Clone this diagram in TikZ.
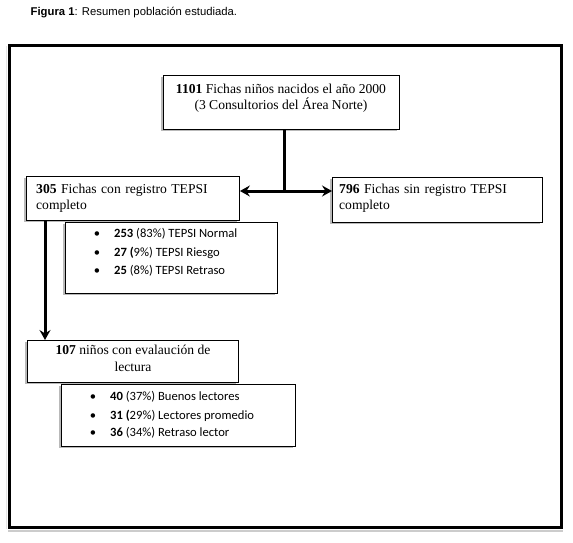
\documentclass[tikz,border=0pt]{standalone}
\usepackage{fontspec}
\setmainfont{Liberation Serif}
\newfontfamily\arialf{Liberation Sans}
\newfontfamily\calib{Carlito}
\usetikzlibrary{arrows.meta,shadows}
\tikzset{
  box/.style={draw, line width=0.9pt, fill=white, inner sep=0pt, anchor=north west,
    general shadow={shadow xshift=-2pt, shadow yshift=-2pt, fill=gray!55}},
  serif/.style={inner sep=0pt, font=\fontsize{13.6}{15.5}\selectfont},
  listtxt/.style={inner sep=0pt, anchor=base west, font=\calib\fontsize{12.6}{14}\selectfont},
  bul/.style={inner sep=0pt, anchor=base, font=\calib\fontsize{12.6}{14}\selectfont},
  conn/.style={line width=3pt},
  arr/.style={conn, -{Stealth[length=10pt,width=11pt,inset=3.5pt]}},
  arrb/.style={conn, {Stealth[length=10pt,width=11pt,inset=3.5pt]}-{Stealth[length=10pt,width=11pt,inset=3.5pt]}}
}
\begin{document}
\begin{tikzpicture}[x=1pt,y=-1pt]
\useasboundingbox (0,0) rectangle (573,542);
\fill[white] (0,0) rectangle (573,542);
% title
\node[anchor=base west, inner sep=0pt, font=\arialf\fontsize{11.3}{13}\selectfont] (title) at (30.5,15)
  {\textbf{Figura 1}: Resumen población estudiada.};
% frame
\draw[gray!40, line width=2pt] (8,531) -- (563,531);
\draw[gray!20, line width=1pt] (6,46) -- (6,529);
\draw[line width=3pt] (9.5,45.5) rectangle (561,527);
% boxes
\node[box, minimum width=236pt, minimum height=54pt] (n1101) at (163,75) {};
\node[serif, anchor=north, align=center] (t1101) at (281,84)
  {\textbf{1101} Fichas niños nacidos el año 2000\\(3 Consultorios del Área Norte)};

\node[box, minimum width=213pt, minimum height=44pt] (n305) at (26,176) {};
\node[serif, anchor=north west, text width=194pt, align=left] (t305) at (36,184)
  {\makebox[194pt][s]{\textbf{305} Fichas con registro TEPSI}\\completo};

\node[box, minimum width=210pt, minimum height=45pt] (n796) at (332,177) {};
\node[serif, anchor=north west, text width=194pt, align=left] (t796) at (339,184)
  {\makebox[194pt][s]{\textbf{796} Fichas sin registro TEPSI}\\completo};

\node[box, minimum width=212pt, minimum height=71pt] (l1) at (65,222) {};
\node[bul] (b11) at (97,237.5) {•};
\node[bul] (b12) at (97,256.7) {•};
\node[bul] (b13) at (97,274.5) {•};
\node[listtxt] (i11) at (114,237.5) {\textbf{253} (83\%) TEPSI Normal};
\node[listtxt] (i12) at (114,256.7) {\textbf{27 (}9\%) TEPSI Riesgo};
\node[listtxt] (i13) at (114,274.5) {\textbf{25} (8\%) TEPSI Retraso};

\node[box, minimum width=211pt, minimum height=42pt] (n107) at (27,340) {};
\node[serif, anchor=north, align=center, font=\fontsize{13.6}{17}\selectfont] (t107) at (133,345)
  {\textbf{107} niños con evalaución de\\lectura};

\node[box, minimum width=234pt, minimum height=62pt] (l2) at (61,384) {};
\node[bul] (b21) at (93,400) {•};
\node[bul] (b22) at (93,419) {•};
\node[bul] (b23) at (93,436.7) {•};
\node[listtxt] (i21) at (110,400) {\textbf{40} (37\%) Buenos lectores};
\node[listtxt] (i22) at (110,419) {\textbf{31 (}29\%) Lectores promedio};
\node[listtxt] (i23) at (110,436.7) {\textbf{36} (34\%) Retraso lector};

% connectors
\coordinate (j) at (284,191);
\coordinate (k) at (45,0);
\draw[conn] (j |- n1101.south) -- (j);
\draw[arrb] (n305.east |- j) -- (n796.west |- j);
\draw[arr] (k |- n305.south) -- (k |- n107.north);
\end{tikzpicture}
\end{document}
